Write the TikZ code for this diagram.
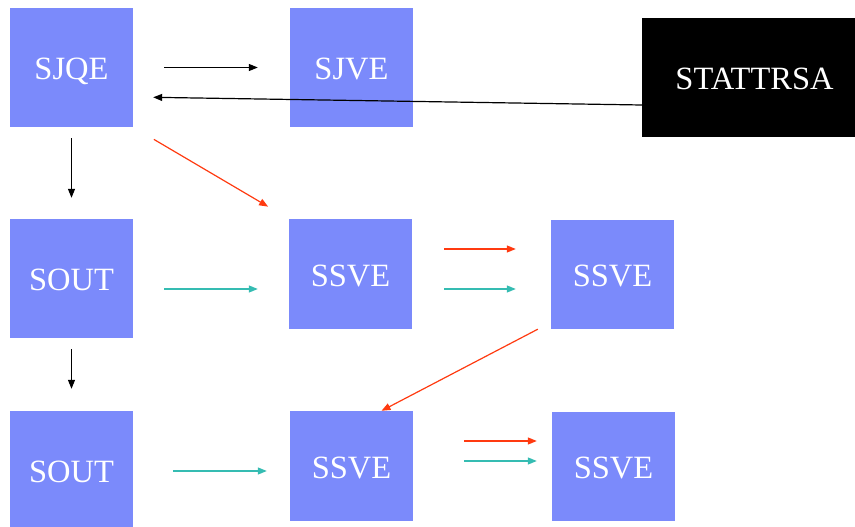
\documentclass[tikz,border=0pt]{standalone}
\usepackage{fontspec}
\setmainfont{Liberation Serif}
\usetikzlibrary{arrows.meta}
\definecolor{boxblue}{HTML}{7B8AFB}
\definecolor{flowred}{HTML}{FF3A10}
\definecolor{flowteal}{HTML}{35BCB2}
\tikzset{
  block/.style={fill=boxblue, draw=none, text=white, inner sep=0pt,
    text height=24.5pt, text depth=0pt,
    font=\fontsize{32.5}{36}\selectfont},
  stat/.style={fill=black, draw=none, text=white, inner sep=0pt,
    text height=24pt, text depth=0pt,
    font=\fontsize{32.5}{36}\selectfont},
  link/.style={line width=1.2pt, -{Triangle[length=9pt,width=7pt]}},
  blk/.style={link, black},
  rd/.style={link, flowred},
  tl/.style={link, flowteal},
}
\begin{document}
\begin{tikzpicture}[x=1pt, y=-1pt]
\useasboundingbox (0,0) rectangle (855,527);

% blocks
\node[block, minimum width=123pt, minimum height=119pt] (sjqe) at (71.5,67.5) {SJQE};
\node[block, minimum width=123pt, minimum height=119pt] (sjve) at (351.5,67.5) {SJVE};
\node[stat, minimum width=213pt, minimum height=119pt] (stat) at (748.5,77.5) {\hspace{12pt}STATTRSA};
\node[block, minimum width=123pt, minimum height=119pt] (sout1) at (71.5,278.5) {SOUT};
\node[block, minimum width=123pt, minimum height=110pt] (ssve1) at (350.5,274) {SSVE};
\node[block, minimum width=123pt, minimum height=109pt] (ssve2) at (612.5,274.5) {SSVE};
\node[block, minimum width=123pt, minimum height=119pt] (sout2) at (71.5,470.5) {SOUT};
\node[block, minimum width=123pt, minimum height=110pt] (ssve3) at (351.5,466) {SSVE};
\node[block, minimum width=123pt, minimum height=109pt] (ssve4) at (613.5,466.5) {SSVE};

% black connectors
\draw[blk, shorten <=31pt, shorten >=32pt] (sjqe.east) -- (sjve.west);
\draw[blk, shorten >=20pt] ([yshift=-27.5pt]stat.west) -- ([yshift=-29.5pt]sjqe.east);
\draw[blk, shorten <=11pt, shorten >=21pt] (sjqe.south) -- (sout1.north);
\draw[blk, shorten <=11pt, shorten >=22pt] (sout1.south) -- (sout2.north);

% red connectors
\draw[rd, shorten <=24pt, shorten >=24pt] (sjqe.south east) -- (ssve1.north west);
\draw[rd, shorten <=32pt, shorten >=35pt] ([yshift=25pt]ssve1.east) -- ([yshift=25pt]ssve1.east -| ssve2.west);
\draw[rd] ([xshift=-13pt]ssve2.south west) -- ([xshift=30pt]ssve3.north);
\draw[rd, shorten <=51pt, shorten >=15pt] ([yshift=25pt]ssve3.east) -- ([yshift=25pt]ssve3.east -| ssve4.west);

% teal connectors
\draw[tl, shorten <=31pt, shorten >=31pt] ([yshift=-10.5pt]sout1.east) -- ([yshift=-10.5pt]sout1.east -| ssve1.west);
\draw[tl, shorten <=32pt, shorten >=35pt] ([yshift=-15pt]ssve1.east) -- ([yshift=-15pt]ssve1.east -| ssve2.west);
\draw[tl, shorten <=40pt, shorten >=23pt] ([yshift=-0.5pt]sout2.east) -- ([yshift=-0.5pt]sout2.east -| ssve3.west);
\draw[tl, shorten <=51pt, shorten >=15pt] ([yshift=5pt]ssve3.east) -- ([yshift=5pt]ssve3.east -| ssve4.west);
\end{tikzpicture}
\end{document}
